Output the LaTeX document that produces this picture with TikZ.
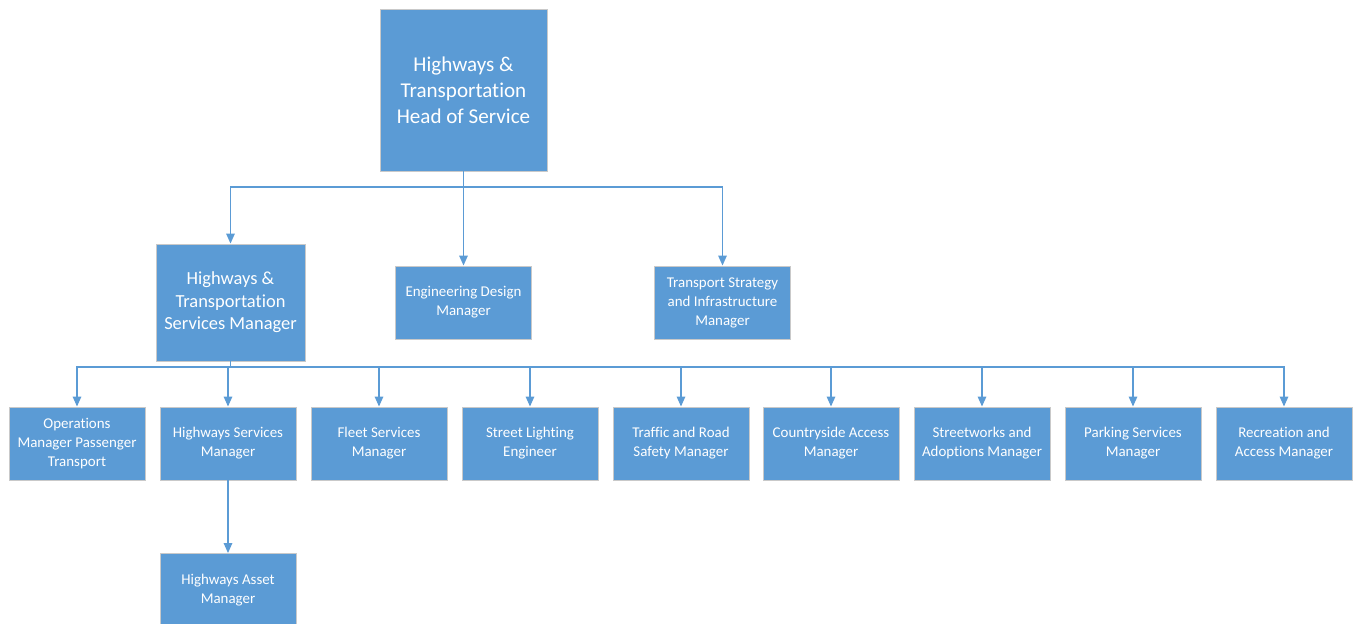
\documentclass[tikz,border=0pt]{standalone}
\usepackage{fontspec}
\setmainfont{Carlito}[Ligatures=NoCommon]
\usepackage{tikz}
\usetikzlibrary{arrows.meta}
\definecolor{hwblue}{HTML}{5B9BD5}
\definecolor{hwedge}{HTML}{C9C9C9}
\tikzset{
  post/.style      = {draw=hwedge, fill=hwblue, text=white, align=center,
                      line width=0.5pt, inner sep=2pt},
  headpost/.style  = {post, minimum width=3.34cm, minimum height=3.24cm,
                      font=\fontsize{12}{14.8}\selectfont},
  midpost/.style   = {post, minimum width=2.98cm, minimum height=2.34cm,
                      font=\fontsize{10.5}{12.8}\selectfont},
  smallpost/.style = {post, minimum width=2.72cm, minimum height=1.46cm,
                      font=\fontsize{8.5}{10.8}\selectfont},
  %
  link/.style      = {draw=hwblue, line width=0.8pt},
  flow/.style      = {link, -{Triangle[length=2.0mm,width=1.7mm]}},
}
\begin{document}
\begin{tikzpicture}[x=0.02cm, y=0.02cm]

  \useasboundingbox (0,0) rectangle (1357,-624);

  % ---------- top level ----------------------------------------------------
  \node[headpost] (head) at (463.5,-90)
    {Highways \&\\ Transportation\\ Head of Service};

  % ---------- second level -------------------------------------------------
  \node[midpost] (svcmgr) at (230.5,-302.5)
    {Highways \&\\ Transportation\\ Services Manager};
  \node[smallpost] (engdesign) at (463.5,-302.5)
    {Engineering Design\\ Manager};
  \node[smallpost] (strategy) at (722.5,-302.5)
    {Transport Strategy\\ and Infrastructure\\ Manager};

  % ---------- third level --------------------------------------------------
  \node[smallpost] (passenger)   at (77,-443.5)
    {Operations\\ Manager Passenger\\ Transport};
  \node[smallpost] (hwysvc)      at (228,-443.5)
    {Highways Services\\ Manager};
  \node[smallpost] (fleet)       at (379,-443.5)
    {Fleet Services\\ Manager};
  \node[smallpost] (lighting)    at (530,-443.5)
    {Street Lighting\\ Engineer};
  \node[smallpost] (traffic)     at (681,-443.5)
    {Traffic and Road\\ Safety Manager};
  \node[smallpost] (countryside) at (831,-443.5)
    {Countryside Access\\ Manager};
  \node[smallpost] (streetworks) at (982,-443.5)
    {Streetworks and\\ Adoptions Manager};
  \node[smallpost] (parking)     at (1133,-443.5)
    {Parking Services\\ Manager};
  \node[smallpost] (recreation)  at (1284,-443.5)
    {Recreation and\\ Access Manager};

  % ---------- fourth level -------------------------------------------------
  \node[smallpost] (asset) at (228,-590)
    {Highways Asset\\ Manager};

  % bus points
  \coordinate (topbus) at (463.5,-187);
  \coordinate (lowbus) at (230.5,-367);

  % ---------- connectors ---------------------------------------------------
  \draw[link] (head.south) -- (topbus);
  \draw[flow] (topbus) -| (svcmgr.north);
  \draw[flow] (topbus) -- (engdesign.north);
  \draw[flow] (topbus) -| (strategy.north);

  \draw[link] (svcmgr.south) -- (lowbus);
  \draw[flow] (lowbus) -| (passenger.north);
  \draw[flow] (lowbus) -| (hwysvc.north);
  \draw[flow] (lowbus) -| (fleet.north);
  \draw[flow] (lowbus) -| (lighting.north);
  \draw[flow] (lowbus) -| (traffic.north);
  \draw[flow] (lowbus) -| (countryside.north);
  \draw[flow] (lowbus) -| (streetworks.north);
  \draw[flow] (lowbus) -| (parking.north);
  \draw[flow] (lowbus) -| (recreation.north);

  \draw[flow] (hwysvc.south) -- (asset.north);

\end{tikzpicture}
\end{document}
